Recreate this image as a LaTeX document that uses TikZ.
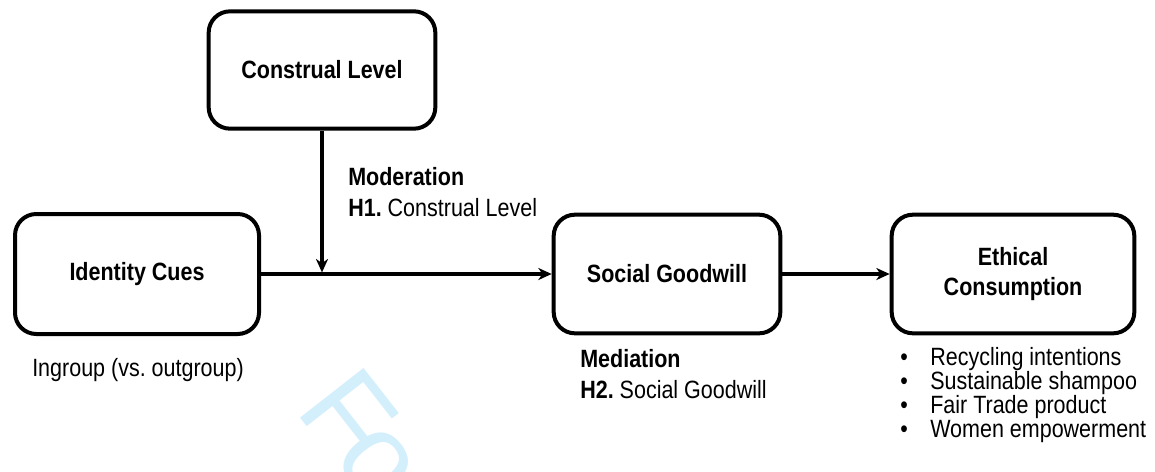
\documentclass[tikz,border=0pt]{standalone}
\usepackage{fontspec}
\setmainfont{Liberation Sans}[FakeStretch=0.86]
\newfontfamily\wmfont{Liberation Sans}
\usetikzlibrary{arrows.meta}
\definecolor{wm}{RGB}{212,239,252}
\begin{document}
\begin{tikzpicture}[x=0.75pt,y=-0.75pt,
  box/.style={draw, line width=3pt, rounded corners=16pt, align=center, inner sep=0pt,
    font=\bfseries\fontsize{18.75}{22.5}\selectfont},
  conn/.style={line width=2.3pt, -{Stealth[length=10pt,width=9pt,inset=3pt]}},
  lbl/.style={anchor=base west, inner sep=0pt, font=\fontsize{18.75}{22}\selectfont}]
\clip (0,0) rectangle (1155,471);
\node[anchor=base west, inner sep=0pt, rotate=-52, text=wm,
  font=\wmfont\fontsize{88}{100}\selectfont] (wm) at (294,410) {F\kern-0.1em o};
\node[box, minimum width=170pt, minimum height=88pt] (CL) at (322,70) {Construal Level};
\node[box, minimum width=183pt, minimum height=90pt] (IC) at (137,274) {Identity Cues};
\node[box, minimum width=170pt, minimum height=89pt] (SG) at (667,274) {Social Goodwill};
\node[box, minimum width=182pt, minimum height=89pt] (EC) at (1013,274) {Ethical\\Consumption};
\coordinate (J) at (CL.south |- IC.east);
\draw[conn] (IC.east) -- (SG.west);
\draw[conn] (SG.east) -- (EC.west);
\draw[conn, shorten >=1.2pt] (CL.south) -- (J);
\node[lbl] (mod) at (348,185) {\bfseries Moderation};
\node[lbl] (h1) at (348,216) {\bfseries H1.\ \mdseries Construal Level};
\node[lbl] (ing) at (32,376) {Ingroup (vs.\ outgroup)};
\node[lbl] (med) at (580,367) {\bfseries Mediation};
\node[lbl] (h2) at (580,398) {\bfseries H2.\ \mdseries Social Goodwill};
\node[lbl] (b1) at (900,365) {\makebox[22.5pt][l]{•}Recycling intentions};
\node[lbl] (b2) at (900,389) {\makebox[22.5pt][l]{•}Sustainable shampoo};
\node[lbl] (b3) at (900,413) {\makebox[22.5pt][l]{•}Fair Trade product};
\node[lbl] (b4) at (900,437) {\makebox[22.5pt][l]{•}Women empowerment};
\end{tikzpicture}
\end{document}
